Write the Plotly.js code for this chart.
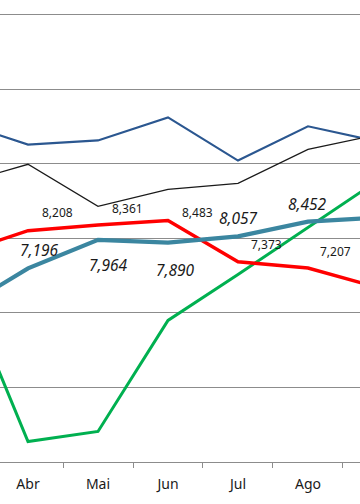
<!DOCTYPE html>
<html>
<head>
<meta charset="utf-8">
<script src="https://cdn.plot.ly/plotly-3.0.1.min.js"></script>
<style>html,body{margin:0;padding:0;background:#fff;}#chart{width:360px;height:504px;}</style>
</head>
<body>
<div id="chart"></div>
<script>
// Data (Mar and Set are partly off-screen estimates)
const months = ['Mar', 'Abr', 'Mai', 'Jun', 'Jul', 'Ago', 'Set'];
const navySeries = [11130, 10520, 10630, 11250, 10090, 11010, 10600];
const blackSeries = [9450, 9990, 8860, 9320, 9480, 10390, 10790];
const redSeries = [7580, 8208, 8361, 8483, 7373, 7207, 6680];
const tealSeries = [6060, 7196, 7964, 7890, 8057, 8452, 8560];
const greenSeries = [7100, 2550, 2820, 5800, 7030, 8300, 9560];

// Which points carry a visible data label
const redLabelIdx = [1, 2, 3, 4, 5];
const tealLabelIdx = [1, 2, 3, 4, 5];

// Label styling (offsets in px, kept separate from data)
const redShift = {1: [29, 18], 2: [29, 17], 3: [29, 8], 4: [29, 17], 5: [28, 17]};
const tealShift = {1: [11, 18], 2: [10, -25], 3: [7, -27], 4: [1, 18], 5: [0, 18]};

const fmt = v => v.toLocaleString('en-US');

const traces = [
  {x: months, y: greenSeries, mode: 'lines', line: {color: '#00b050', width: 3}},
  {x: months, y: navySeries, mode: 'lines', line: {color: '#2b5790', width: 2.2}},
  {x: months, y: blackSeries, mode: 'lines', line: {color: '#1a1a1a', width: 1.3}},
  {x: months, y: redSeries, mode: 'lines', line: {color: '#ff0000', width: 3.4}},
  {x: months, y: tealSeries, mode: 'lines', line: {color: '#3b86a0', width: 4.2}}
].map(t => Object.assign(t, {type: 'scatter', hoverinfo: 'skip', showlegend: false}));

const annotations = [];
redLabelIdx.forEach(i => {
  annotations.push({
    x: months[i], y: redSeries[i], xref: 'x', yref: 'y', text: fmt(redSeries[i]),
    showarrow: false, xshift: redShift[i][0], yshift: redShift[i][1],
    font: {family: 'Noto Sans, sans-serif', size: 12, color: '#1a1a1a'}
  });
});
tealLabelIdx.forEach(i => {
  annotations.push({
    x: months[i], y: tealSeries[i], xref: 'x', yref: 'y', text: '<i>' + fmt(tealSeries[i]) + '</i>',
    showarrow: false, xshift: tealShift[i][0], yshift: tealShift[i][1],
    font: {family: 'Noto Sans, sans-serif', size: 15.5, color: '#1a1a1a'}
  });
});

const layout = {
  width: 360, height: 504,
  margin: {l: 0, r: 0, t: 0, b: 42},
  paper_bgcolor: '#ffffff', plot_bgcolor: '#ffffff',
  showlegend: false,
  xaxis: {
    type: 'category', categoryarray: months, categoryorder: 'array',
    range: [0.6, 5.743],
    showgrid: false, zeroline: false,
    showline: true, linecolor: '#8c8c8c', linewidth: 1,
    ticks: 'outside', ticklen: 5, tickcolor: '#8c8c8c', tickson: 'boundaries',
    ticklabelstandoff: 9,
    tickfont: {family: 'Noto Sans, sans-serif', size: 14, color: '#1a1a1a'}
  },
  yaxis: {
    range: [2000, 14400], dtick: 2000, tick0: 0,
    showgrid: true, gridcolor: '#8c8c8c', gridwidth: 1,
    zeroline: false, showticklabels: false, showline: false, ticks: ''
  },
  annotations: annotations
};

Plotly.newPlot('chart', traces, layout, {staticPlot: true, displayModeBar: false});
</script>
</body>
</html>
